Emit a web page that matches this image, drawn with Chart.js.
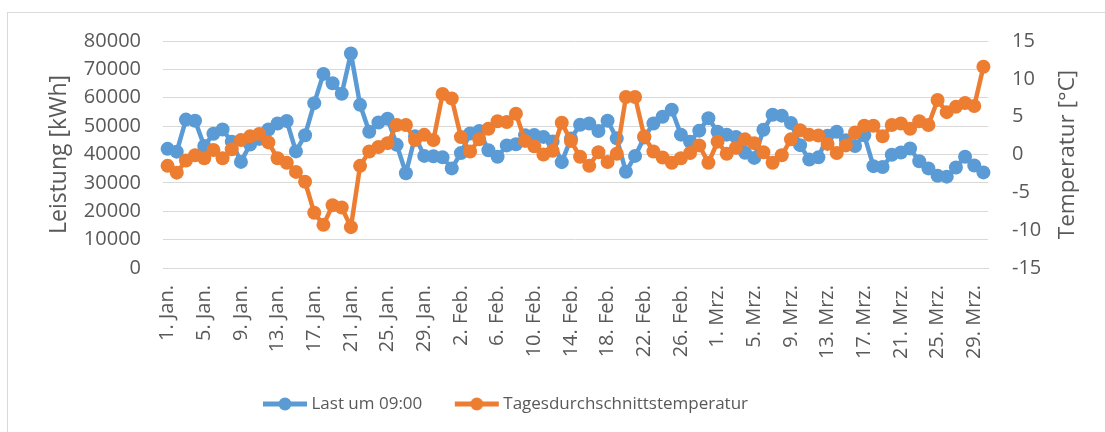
<!DOCTYPE html>
<html lang="de">
<head>
<meta charset="utf-8">
<title>Last um 09:00 und Tagesdurchschnittstemperatur</title>
<script src="https://cdn.jsdelivr.net/npm/chart.js@4.4.1/dist/chart.umd.min.js"></script>
<style>
  html, body { margin: 0; padding: 0; background: #fff; }
  #wrap { position: relative; width: 1105px; height: 432px; overflow: hidden; }
  #frame { position: absolute; left: 7px; top: 12px; width: 1130px; height: 450px; border: 1px solid #d9d9d9; box-sizing: border-box; }
  #chart { position: absolute; left: 0; top: 0; }
</style>
</head>
<body>
<div id="wrap">
  <div id="frame"></div>
  <canvas id="chart" width="1105" height="432"></canvas>
</div>
<script>
// Tage 1. Jan. bis 30. Mrz. (Schaltjahr)
const months = [['Jan.', 31], ['Feb.', 29], ['Mrz.', 30]];
const days = [];
months.forEach(([m, n]) => { for (let d = 1; d <= n; d++) days.push(d + '. ' + m); });

// Last um 09:00 [kWh]
const last0900 = [
  42000, 41000, 52300, 51900, 43000, 47300, 48800, 44500, 37400, 43500,
  45500, 48800, 50900, 51800, 41100, 46800, 58100, 68400, 65100, 61400,
  75600, 57500, 48000, 51300, 52600, 43400, 33400, 46400, 39500, 39400,
  39000, 35100, 40500, 47400, 48300, 41500, 39200, 43200, 43600, 46800,
  46900, 46200, 44600, 37300, 45600, 50500, 50900, 48300, 51900, 45700,
  33900, 39500, 46000, 50900, 53300, 55800, 47000, 44500, 48400, 52800,
  48000, 47000, 46200, 40600, 38800, 48700, 54000, 53700, 51100, 43300,
  38200, 39000, 46600, 48000, 45000, 43000, 46800, 35900, 35600, 39900,
  40700, 42100, 37600, 35100, 32500, 32200, 35400, 39200, 36100, 33700
];

// Tagesdurchschnittstemperatur [°C]
const tempAvg = [
  -1.5, -2.4, -0.8, -0.1, -0.5, 0.6, -0.5, 0.7, 1.9, 2.4,
  2.7, 1.6, -0.5, -1.1, -2.3, -3.6, -7.7, -9.3, -6.7, -7.0,
  -9.6, -1.5, 0.4, 1.0, 1.5, 3.9, 3.9, 1.9, 2.6, 1.9,
  8.0, 7.4, 2.3, 0.4, 2.0, 3.4, 4.4, 4.3, 5.4, 1.8,
  1.1, 0.0, 0.5, 4.2, 1.8, -0.3, -1.5, 0.3, -1.0, 0.1,
  7.6, 7.6, 2.4, 0.4, -0.4, -1.1, -0.5, 0.2, 1.2, -1.1,
  1.7, 0.1, 0.9, 2.0, 1.5, 0.3, -1.1, -0.1, 2.0, 3.2,
  2.6, 2.5, 1.4, 0.2, 1.2, 2.9, 3.8, 3.8, 2.4, 3.9,
  4.1, 3.4, 4.4, 3.9, 7.2, 5.6, 6.3, 6.8, 6.4, 11.6
];

const BLUE = '#5b9bd5', ORANGE = '#ed7d31';
const TEXT = '#595959', GRID = '#d9d9d9';
const FONT = '"Open Sans", "Noto Sans", sans-serif';

function legendMarker(color) {
  const c = document.createElement('canvas');
  c.width = 46; c.height = 16;
  const g = c.getContext('2d');
  g.strokeStyle = color; g.lineWidth = 5;
  g.beginPath(); g.moveTo(1, 8); g.lineTo(45, 8); g.stroke();
  g.fillStyle = color;
  g.beginPath(); g.arc(23, 8, 6.5, 0, Math.PI * 2); g.fill();
  return c;
}
const markers = [legendMarker(BLUE), legendMarker(ORANGE)];

// rechter Achsentitel, von unten nach oben gelesen wie in Excel
const rightTitle = {
  id: 'rightTitle',
  afterDraw(chart) {
    const { ctx, chartArea } = chart;
    ctx.save();
    ctx.translate(chartArea.right + 80, (chartArea.top + chartArea.bottom) / 2);
    ctx.rotate(-Math.PI / 2);
    ctx.font = '22.5px ' + FONT;
    ctx.fillStyle = TEXT;
    ctx.textAlign = 'center';
    ctx.textBaseline = 'middle';
    ctx.fillText('Temperatur [°C]', 0, 0);
    ctx.restore();
  },
};

// Legende wie in Excel im Diagrammrahmen zentriert, nicht über die volle Breite
const legendBox = {
  id: 'legendBox',
  afterLayout(chart) {
    const lg = chart.legend;
    if (!lg) return;
    lg.left = 7;
    lg.right = 1008;
  },
};

const tickFont = { family: FONT, size: 20 };

new Chart(document.getElementById('chart'), {
  type: 'line',
  data: {
    labels: days,
    datasets: [
      {
        label: 'Last um 09:00',
        data: last0900,
        yAxisID: 'y',
        borderColor: BLUE, backgroundColor: BLUE,
        pointBackgroundColor: BLUE, pointBorderColor: BLUE,
        borderWidth: 4.5, pointRadius: 7, pointBorderWidth: 0,
        order: 2,
      },
      {
        label: 'Tagesdurchschnittstemperatur',
        data: tempAvg,
        yAxisID: 'y1',
        borderColor: ORANGE, backgroundColor: ORANGE,
        pointBackgroundColor: ORANGE, pointBorderColor: ORANGE,
        borderWidth: 4.5, pointRadius: 7, pointBorderWidth: 0,
        order: 1,
      },
    ],
  },
  options: {
    responsive: false,
    animation: false,
    layout: { padding: { left: 7, right: 0, top: 41, bottom: 9.5 } },
    elements: { line: { tension: 0, borderJoinStyle: 'round', borderCapStyle: 'round' } },
    plugins: {
      legend: {
        position: 'bottom',
        labels: {
          usePointStyle: true,
          pointStyleWidth: 36,
          padding: 36.5,
          color: TEXT,
          font: { family: FONT, size: 17 },
          sort: (a, b) => a.datasetIndex - b.datasetIndex,
          generateLabels(chart) {
            const items = Chart.defaults.plugins.legend.labels.generateLabels(chart);
            items.forEach(it => { it.pointStyle = markers[it.datasetIndex]; });
            return items;
          },
        },
      },
    },
    scales: {
      x: {
        offset: true,
        grid: { display: false, drawTicks: false },
        border: { color: GRID, width: 1 },
        ticks: {
          autoSkip: false, maxRotation: 90, minRotation: 90, padding: 17,
          color: TEXT, font: tickFont,
          callback(v, i) { return i % 4 === 0 ? this.getLabelForValue(v) : null; },
        },
        afterFit(s) { s.height = 91; },
      },
      y: {
        position: 'left', min: 0, max: 80000,
        grid: { color: GRID, lineWidth: 1, drawTicks: false },
        border: { display: false },
        ticks: { stepSize: 10000, padding: 22, color: TEXT, font: tickFont, callback: v => String(v) },
        title: { display: true, text: 'Leistung [kWh]', color: TEXT, font: { family: FONT, size: 23 }, padding: { top: 39, bottom: 0 } },
        afterFit(s) { s.width = 156; },
      },
      y1: {
        position: 'right', min: -15, max: 15,
        grid: { display: false, drawTicks: false },
        border: { display: false },
        ticks: { stepSize: 5, padding: 24, color: TEXT, font: tickFont, callback: v => String(v) },
        afterFit(s) { s.width = 117; },
      },
    },
  },
  plugins: [rightTitle, legendBox],
});
</script>
</body>
</html>
